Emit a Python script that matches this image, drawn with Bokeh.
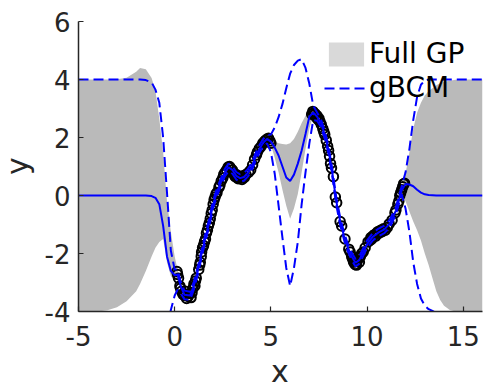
from bokeh.plotting import figure
from bokeh.models import FixedTicker, Legend, LegendItem, Div
from bokeh.layouts import column, row
from bokeh.embed import file_html
from bokeh.resources import INLINE

# ---- data ----
x_grid = [-5.0, -4.0, -3.5, -3.0, -2.5, -2.0, -1.8, -1.5, -1.2, -1.0,
          -0.8, -0.6, -0.4, -0.2, 0.0, 0.15, 0.3, 0.5, 0.8, 1.0,
          1.2, 1.4, 1.6, 1.8, 2.0, 2.2, 2.4, 2.6, 2.8, 3.0,
          3.2, 3.4, 3.6, 3.8, 4.0, 4.2, 4.4, 4.6, 4.8, 5.0,
          5.2, 5.4, 5.6, 5.8, 6.0, 6.2, 6.4, 6.6, 6.8, 7.0,
          7.2, 7.4, 7.6, 7.8, 8.0, 8.2, 8.4, 8.6, 8.8, 9.0,
          9.2, 9.4, 9.6, 9.8, 10.0, 10.3, 10.6, 10.9, 11.2, 11.5,
          11.8, 12.0, 12.2, 12.4, 12.6, 12.8, 13.0, 13.2, 13.4, 13.6,
          13.8, 14.0, 14.3, 14.6, 15.0, 16.0]

gbcm_mean = [0, 0, 0, 0, 0, 0, 0, 0, -0.02, -0.08,
             -0.3, -1.05, -2.1, -2.6, -2.75, -2.72, -3.1, -3.42, -3.45, -3.1,
             -2.6, -2.0, -1.45, -0.92, -0.3, 0.12, 0.45, 0.78, 0.97, 0.88,
             0.68, 0.6, 0.64, 0.78, 0.98, 1.32, 1.6, 1.82, 1.95, 1.86,
             1.65, 1.38, 1.0, 0.62, 0.5, 0.72, 1.1, 1.55, 2.12, 2.72,
             2.86, 2.72, 2.5, 2.1, 1.55, 0.75, -0.2, -0.88, -1.4, -1.8,
             -2.1, -2.32, -2.22, -1.95, -1.68, -1.42, -1.27, -1.17, -0.95, -0.52,
             0.18, 0.4, 0.38, 0.32, 0.2, 0.1, 0.04, 0.02, 0.01, 0.0,
             0, 0, 0, 0, 0, 0]

gbcm_upper = [4.0, 4.0, 4.0, 4.0, 4.0, 4.0, 4.0, 3.98, 3.9, 3.65,
              3.2, 2.0, 0.1, -1.9, -2.55, -2.55, -2.95, -3.28, -3.32, -2.97,
              -2.47, -1.87, -1.32, -0.79, -0.17, 0.25, 0.58, 0.91, 1.1, 1.01,
              0.81, 0.73, 0.77, 0.91, 1.11, 1.45, 1.73, 1.95, 2.08, 2.1,
              2.35, 2.7, 3.15, 3.7, 4.2, 4.5, 4.65, 4.7, 4.4, 3.85,
              3.1, 2.86, 2.63, 2.23, 1.68, 0.88, -0.07, -0.75, -1.27, -1.67,
              -1.97, -2.19, -2.09, -1.82, -1.55, -1.29, -1.14, -1.04, -0.82, -0.39,
              0.32, 0.8, 1.6, 2.6, 3.4, 3.82, 3.97, 4.0, 4.0, 4.0,
              4.0, 4.0, 4.0, 4.0, 4.0, 4.0]

gbcm_lower = [-4.1, -4.1, -4.1, -4.1, -4.1, -4.1, -4.15, -4.25, -4.5, -4.8,
              -5.2, -5.0, -4.6, -3.95, -3.45, -3.25, -3.35, -3.58, -3.6, -3.24,
              -2.73, -2.13, -1.58, -1.05, -0.43, -0.01, 0.32, 0.65, 0.84, 0.75,
              0.55, 0.47, 0.51, 0.65, 0.85, 1.19, 1.47, 1.69, 1.8, 1.5,
              0.75, -0.35, -1.45, -2.5, -3.12, -2.5, -1.6, -0.3, 0.8, 1.8,
              2.6, 2.58, 2.37, 1.97, 1.42, 0.62, -0.33, -1.01, -1.53, -1.93,
              -2.23, -2.45, -2.35, -2.08, -1.81, -1.55, -1.4, -1.3, -1.08, -0.65,
              0.04, -0.45, -1.25, -2.3, -3.05, -3.55, -3.8, -3.92, -3.98, -4.05,
              -4.1, -4.1, -4.1, -4.1, -4.1, -4.1]

gp_upper = [4.0, 4.0, 4.0, 4.01, 4.06, 4.27, 4.4, 4.35, 4.05, 3.6,
            2.65, 1.5, -0.2, -1.25, -2.1, -2.55, -2.98, -3.32, -3.35, -3.0,
            -2.52, -1.92, -1.37, -0.84, -0.22, 0.2, 0.53, 0.86, 1.05, 0.96,
            0.76, 0.68, 0.72, 0.86, 1.06, 1.4, 1.68, 1.9, 2.03, 1.93,
            1.86, 1.8, 1.78, 1.76, 1.8, 1.95, 2.2, 2.5, 2.75, 2.9,
            2.95, 2.8, 2.58, 2.18, 1.63, 0.83, -0.12, -0.8, -1.32, -1.72,
            -2.02, -2.24, -2.14, -1.87, -1.6, -1.34, -1.19, -1.09, -0.87, -0.44,
            0.3, 0.75, 1.5, 2.3, 2.85, 3.2, 3.45, 3.6, 3.7, 3.8,
            3.87, 3.92, 3.96, 3.99, 4.0, 4.0]

gp_lower = [-4.0, -4.0, -3.96, -3.85, -3.65, -3.3, -3.05, -2.6, -2.1, -1.8,
            -1.6, -1.5, -2.3, -2.78, -2.95, -2.9, -3.2, -3.52, -3.53, -3.18,
            -2.68, -2.08, -1.53, -1.0, -0.38, 0.04, 0.37, 0.7, 0.89, 0.8,
            0.6, 0.52, 0.56, 0.7, 0.9, 1.24, 1.52, 1.74, 1.87, 1.75,
            1.3, 0.8, 0.2, -0.35, -0.8, -0.45, 0.05, 0.8, 1.6, 2.3,
            2.77, 2.64, 2.42, 2.02, 1.47, 0.67, -0.28, -0.96, -1.48, -1.88,
            -2.18, -2.4, -2.3, -2.03, -1.76, -1.5, -1.35, -1.25, -1.03, -0.6,
            0.08, -0.2, -0.55, -0.9, -1.2, -1.55, -2.0, -2.4, -2.85, -3.3,
            -3.6, -3.8, -3.95, -4.0, -4.0, -4.0]

obs_x = [0.12, 0.15, 0.2, 0.27, 0.3, 0.35, 0.42, 0.5, 0.55, 0.62, 0.7, 0.78, 0.85, 0.9, 0.95, 1.0, 1.05, 1.08, 1.12,
         1.25, 1.3, 1.33, 1.38, 1.4, 1.45, 1.5, 1.55, 1.6, 1.65, 1.7, 1.75, 1.8, 1.85, 1.9, 1.95, 2.0, 2.05, 2.1, 2.15,
         2.2, 2.3, 2.35, 2.42, 2.5, 2.55, 2.62, 2.7, 2.78, 2.85, 2.9,
         3.0, 3.05, 3.1, 3.15, 3.2, 3.25, 3.3, 3.35, 3.42, 3.5, 3.55, 3.62, 3.7, 3.85, 3.95,
         4.05, 4.15, 4.25, 4.3, 4.4, 4.5, 4.58, 4.65, 4.72, 4.8, 4.88, 4.95, 5.0,
         7.12, 7.18, 7.22, 7.25, 7.3, 7.35, 7.4, 7.45, 7.5, 7.55, 7.62, 7.7, 7.75, 7.8, 7.88, 7.95, 8.0, 8.05, 8.1,
         8.15, 8.25, 8.35, 8.42, 8.6, 8.68, 8.85,
         9.05, 9.12, 9.2, 9.25, 9.3, 9.35, 9.38, 9.42, 9.45, 9.5, 9.55, 9.6, 9.65, 9.72, 9.8, 9.9,
         10.05, 10.15, 10.2, 10.25, 10.3, 10.38, 10.45, 10.5, 10.55, 10.62, 10.7, 10.78, 10.85, 10.95, 11.05,
         11.15, 11.3, 11.45, 11.5, 11.6, 11.65, 11.7, 11.75, 11.8, 11.85, 11.9, 11.95]

obs_y = [-2.62, -2.72, -2.85, -3.12, -3.2, -3.3, -3.4, -3.45, -3.3, -3.55, -3.48, -3.38, -3.52, -3.35, -3.2, -3.05, -3.12, -2.95, -2.85,
         -2.55, -2.4, -2.3, -2.1, -1.95, -1.8, -1.72, -1.6, -1.5, -1.3, -1.2, -1.05, -0.95, -0.8, -0.62, -0.5, -0.3, -0.15, -0.05, 0.05,
         0.1, 0.28, 0.35, 0.5, 0.6, 0.72, 0.8, 0.88, 0.98, 1.0, 0.95,
         0.88, 0.78, 0.7, 0.65, 0.72, 0.62, 0.58, 0.66, 0.6, 0.55, 0.68, 0.62, 0.72, 0.8, 0.88,
         1.05, 1.25, 1.4, 1.5, 1.62, 1.7, 1.8, 1.85, 1.9, 1.95, 1.97, 1.88, 1.8,
         2.8, 2.9, 2.85, 2.78, 2.82, 2.7, 2.75, 2.62, 2.65, 2.55, 2.45, 2.3, 2.2, 2.1, 1.9, 1.7, 1.55, 1.35, 1.1,
         0.95, 0.65, -0.05, -0.25, -0.9, -1.05, -1.5,
         -1.85, -1.95, -2.1, -2.2, -2.3, -2.2, -2.38, -2.28, -2.4, -2.25, -2.15, -2.3, -2.1, -2.0, -1.95, -1.8,
         -1.6, -1.55, -1.45, -1.5, -1.4, -1.35, -1.4, -1.3, -1.25, -1.3, -1.2, -1.25, -1.15, -1.2, -1.1,
         -0.98, -0.85, -0.6, -0.5, -0.3, -0.2, 0.0, 0.1, 0.2, 0.3, 0.4, 0.42]

x_ticks = [-5, 0, 5, 10, 15]
y_ticks = [-4, -2, 0, 2, 4, 6]
x_tick_labels = {t: str(t) for t in x_ticks}   # ASCII hyphen-minus as in the reference
y_tick_labels = {t: str(t) for t in y_ticks}
x_title = "x"
y_title = "y"

# ---- layout sizes (page 484 x 389) ----
YDIV_W = 34          # strip left of the plot holding the y title
XDIV_H = 24          # strip under the plot holding the x title
PW, PH = 484 - YDIV_W, 389 - XDIV_H

p = figure(width=PW, height=PH, x_range=(-5, 16), y_range=(-4, 6),
           output_backend="svg", toolbar_location=None,
           min_border_left=78 - YDIV_W, min_border_right=2, min_border_top=21,
           min_border_bottom=PH - 311, margin=0,
           outline_line_color=None, background_fill_color="white", border_fill_color="white")
p.grid.visible = False

p.varea(x=x_grid, y1=gp_lower, y2=gp_upper, fill_color="#bababa", fill_alpha=1.0)
# zero-area renderer used only for the (lighter) legend swatch
swatch = p.varea(x=x_grid[:1], y1=gp_upper[:1], y2=gp_upper[:1], fill_color="#d9d9d9", fill_alpha=1.0)

p.scatter(obs_x, obs_y, marker="circle", size=9.5, fill_alpha=0,
          line_color="black", line_width=2)

p.line(x_grid, gbcm_mean, line_color="blue", line_width=2)
up = p.line(x_grid, gbcm_upper, line_color="blue", line_width=2, line_dash="10 5")
p.line(x_grid, gbcm_lower, line_color="blue", line_width=2, line_dash="10 5")

legend_style = dict(padding=0, margin=0, spacing=0, glyph_width=44, glyph_height=30,
                    label_standoff=1, label_text_font="DejaVu Sans", label_text_font_size="28px",
                    label_text_color="black", border_line_color=None, background_fill_alpha=0)
p.add_layout(Legend(items=[LegendItem(label="Full GP", renderers=[swatch])],
                    location=(246, 241), **legend_style))
p.add_layout(Legend(items=[LegendItem(label="gBCM", renderers=[up])],
                    location=(246, 207), **legend_style))

for ax in (p.xaxis, p.yaxis):
    ax.axis_line_color = "#262626"
    ax.axis_line_width = 1.5
    ax.major_tick_line_color = "#262626"
    ax.major_tick_line_width = 1.2
    ax.major_tick_in = 5
    ax.major_tick_out = 0
    ax.minor_tick_line_color = None
    ax.major_label_text_font = "DejaVu Sans"
    ax.major_label_text_font_size = "26px"
    ax.major_label_text_color = "#262626"

p.xaxis.ticker = FixedTicker(ticks=x_ticks)
p.yaxis.ticker = FixedTicker(ticks=y_ticks)
p.xaxis.major_label_overrides = x_tick_labels
p.yaxis.major_label_overrides = y_tick_labels
p.xaxis.major_label_standoff = 14
p.yaxis.major_label_standoff = 8

font_css = "font-family:'DejaVu Sans';font-size:30px;color:#262626;white-space:nowrap;"
ydiv = Div(width=YDIV_W, height=PH, margin=0,
           text=(f'<div style="position:relative;width:{YDIV_W}px;height:{PH}px;">'
                 f'<div style="position:absolute;left:0px;top:175px;transform-origin:0 0;'
                 f'transform:rotate(-90deg);line-height:35px;{font_css}">{y_title}</div></div>'))
xdiv = Div(width=484, height=XDIV_H, margin=0,
           text=(f'<div style="position:relative;width:484px;height:{XDIV_H}px;">'
                 f'<div style="position:absolute;left:0px;top:0px;width:560px;text-align:center;'
                 f'line-height:13px;{font_css}">{x_title}</div></div>'))

layout = column(row(ydiv, p, spacing=0, margin=0), xdiv, spacing=0, margin=0)

open("out.html", "w").write(file_html(layout, INLINE))
